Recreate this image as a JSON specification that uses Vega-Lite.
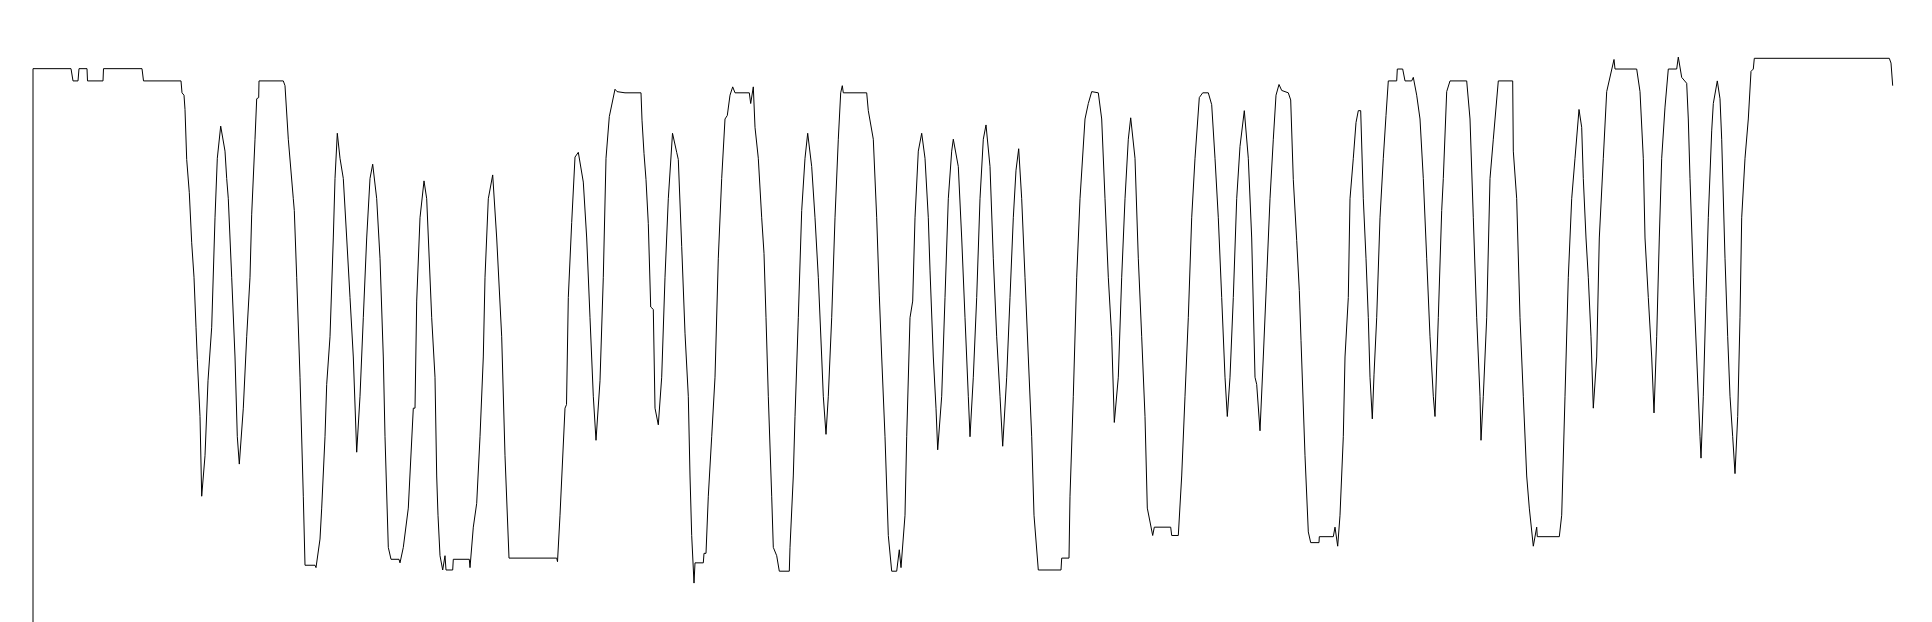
{
"$schema": "https://vega.github.io/schema/vega-lite/v6.json",
"width": 1932, "height": 622,
"autosize": {"type": "fit", "contains": "padding"},
"padding": 0,
"background": "white",
"config": {"view": {"stroke": null}},
"data": {"values": [
{"t":33,"d":530},{"t":33,"d":57.7},{"t":71,"d":57.7},{"t":73,"d":68},{"t":78,"d":68},{"t":79,"d":57.7},{"t":87,"d":57.7},{"t":87.5,"d":68},{"t":103,"d":68},{"t":103.5,"d":57.7},
{"t":142,"d":57.7},{"t":143.5,"d":68},{"t":181,"d":68},{"t":182,"d":78},{"t":184,"d":80},{"t":185,"d":92},{"t":186.7,"d":134},{"t":189.3,"d":162},{"t":191.7,"d":204},{"t":194,"d":233},{"t":196,"d":275},{"t":197.3,"d":302},{"t":200,"d":350},
{"t":201.7,"d":417},{"t":205,"d":383},{"t":208,"d":320},{"t":211.7,"d":275},{"t":215,"d":183},{"t":217.3,"d":133},{"t":220.7,"d":106},{"t":225,"d":127},{"t":226.7,"d":150},{"t":228.3,"d":167},
{"t":231.7,"d":233},{"t":235,"d":300},{"t":237.3,"d":367},{"t":239.3,"d":390},{"t":243.3,"d":343},{"t":246.7,"d":283},{"t":250,"d":233},{"t":251.7,"d":180},{"t":255,"d":117},{"t":256.7,"d":83},
{"t":258.7,"d":82},{"t":259,"d":68},{"t":283.3,"d":68},{"t":285,"d":72},{"t":288.3,"d":117},{"t":293.3,"d":167},{"t":294.3,"d":177},{"t":296.7,"d":233},{"t":300,"d":317},{"t":303.3,"d":417},
{"t":305,"d":475},{"t":315,"d":475},{"t":316,"d":477},{"t":320,"d":453},{"t":321.7,"d":427},{"t":325,"d":367},{"t":326.7,"d":323},{"t":330,"d":283},{"t":333.3,"d":200},{"t":335,"d":150},
{"t":337.3,"d":112},{"t":340,"d":133},{"t":343.3,"d":150},{"t":346.7,"d":200},{"t":350,"d":250},{"t":353.3,"d":300},{"t":356.7,"d":380},{"t":360,"d":333},{"t":363.3,"d":267},{"t":366.7,"d":200},
{"t":370,"d":150},{"t":372.7,"d":138},{"t":376.7,"d":167},{"t":380,"d":217},{"t":383.3,"d":300},{"t":385,"d":367},{"t":388.3,"d":460},{"t":391,"d":470},{"t":399,"d":470},{"t":400,"d":473},
{"t":403.3,"d":460},{"t":408.3,"d":427},{"t":413.3,"d":343},{"t":415,"d":343},{"t":416.7,"d":253},{"t":420,"d":183},{"t":424,"d":152},{"t":426.7,"d":167},{"t":431.7,"d":267},{"t":435,"d":317},
{"t":436.7,"d":400},{"t":438,"d":433},{"t":440,"d":467},{"t":442.7,"d":479},{"t":445,"d":467},{"t":446,"d":479},{"t":452.7,"d":479},{"t":453.3,"d":470},{"t":469.3,"d":470},{"t":470,"d":477},
{"t":473.3,"d":443},{"t":476.7,"d":423},{"t":480,"d":367},{"t":483.3,"d":300},{"t":485,"d":233},{"t":488.3,"d":167},{"t":492.7,"d":147},{"t":496.7,"d":200},{"t":501.7,"d":283},{"t":505,"d":383},
{"t":509,"d":469},{"t":556.7,"d":469},{"t":557.5,"d":472},{"t":560,"d":433},{"t":565,"d":343},{"t":566.5,"d":340},{"t":568.3,"d":250},{"t":571.7,"d":187},{"t":575,"d":132},{"t":578.3,"d":128},
{"t":583.3,"d":153},{"t":586.7,"d":200},{"t":590,"d":267},{"t":593.3,"d":333},{"t":596,"d":370},{"t":600,"d":320},{"t":603.3,"d":233},{"t":606,"d":133},{"t":609.3,"d":98},{"t":615,"d":75},
{"t":617,"d":77},{"t":625,"d":78},{"t":641,"d":78},{"t":642,"d":101},{"t":644,"d":129},{"t":646,"d":151},{"t":648.3,"d":188},{"t":650.7,"d":258},{"t":653.3,"d":260},{"t":655,"d":343},
{"t":658.3,"d":357},{"t":661.7,"d":317},{"t":665,"d":233},{"t":668.3,"d":167},{"t":672.5,"d":112},{"t":676.7,"d":128},{"t":678.3,"d":134},{"t":681.7,"d":207},{"t":685,"d":280},{"t":688.3,"d":333},
{"t":690,"d":400},{"t":691.7,"d":450},{"t":694,"d":490},{"t":695,"d":473},{"t":703.3,"d":473},{"t":704,"d":465},{"t":706,"d":465},{"t":708.3,"d":417},{"t":711.7,"d":367},{"t":715,"d":317},
{"t":718.3,"d":217},{"t":721.7,"d":150},{"t":725,"d":100},{"t":727.3,"d":97},{"t":730,"d":80},{"t":732.7,"d":73},{"t":735,"d":78},{"t":749.3,"d":78},{"t":750.7,"d":87},{"t":753.3,"d":73},
{"t":755,"d":107},{"t":758.3,"d":133},{"t":761.7,"d":183},{"t":764,"d":213},{"t":766,"d":267},{"t":768.3,"d":333},{"t":771.7,"d":417},{"t":773.3,"d":460},{"t":776.7,"d":467},{"t":779.3,"d":480},
{"t":789.3,"d":480},{"t":790,"d":460},{"t":793.3,"d":400},{"t":795,"d":350},{"t":798.3,"d":267},{"t":801.7,"d":177},{"t":805,"d":133},{"t":807.7,"d":112},{"t":811.7,"d":140},{"t":815,"d":183},
{"t":818.3,"d":233},{"t":821.7,"d":300},{"t":823.3,"d":333},{"t":826,"d":365},{"t":828.3,"d":333},{"t":831.7,"d":267},{"t":835,"d":183},{"t":838.3,"d":117},{"t":840.7,"d":78},{"t":842.3,"d":72},
{"t":843.3,"d":78},{"t":866.7,"d":78},{"t":868.3,"d":93},{"t":873.3,"d":117},{"t":876.7,"d":183},{"t":879.3,"d":248},{"t":881.7,"d":300},{"t":885,"d":367},{"t":888.3,"d":450},{"t":891.7,"d":480},
{"t":896.7,"d":480},{"t":899.3,"d":462},{"t":901,"d":477},{"t":905,"d":433},{"t":906.7,"d":367},{"t":910,"d":267},{"t":912.7,"d":253},{"t":915,"d":183},{"t":918.3,"d":127},{"t":921.7,"d":112},
{"t":925,"d":133},{"t":928.3,"d":183},{"t":930,"d":227},{"t":933.3,"d":300},{"t":936,"d":343},{"t":937.7,"d":378},{"t":941.7,"d":333},{"t":945,"d":250},{"t":948.3,"d":167},{"t":951.7,"d":127},
{"t":953.3,"d":117},{"t":958.3,"d":140},{"t":961.7,"d":200},{"t":965,"d":267},{"t":968.3,"d":333},{"t":970,"d":367},{"t":973.3,"d":317},{"t":976.7,"d":250},{"t":980,"d":167},{"t":983.3,"d":117},
{"t":986,"d":105},{"t":990,"d":140},{"t":993.3,"d":217},{"t":996.7,"d":283},{"t":1000,"d":333},{"t":1002.7,"d":375},{"t":1006.7,"d":317},{"t":1010,"d":250},{"t":1013.3,"d":183},{"t":1016,"d":143},
{"t":1018.7,"d":125},{"t":1021.7,"d":167},{"t":1025,"d":233},{"t":1028.3,"d":300},{"t":1031.7,"d":367},{"t":1034,"d":433},{"t":1038.3,"d":479},{"t":1061,"d":479},{"t":1061.7,"d":469},{"t":1069,"d":469},
{"t":1070,"d":417},{"t":1073.3,"d":333},{"t":1076.7,"d":233},{"t":1080,"d":167},{"t":1085,"d":100},{"t":1088.3,"d":87},{"t":1091.7,"d":77},{"t":1098.3,"d":78},{"t":1101.7,"d":100},{"t":1105,"d":167},
{"t":1108.3,"d":233},{"t":1111.7,"d":283},{"t":1114.3,"d":355},{"t":1118.3,"d":317},{"t":1121.7,"d":233},{"t":1125,"d":167},{"t":1128.3,"d":117},{"t":1130.7,"d":99},{"t":1135,"d":133},{"t":1138.3,"d":217},
{"t":1141.7,"d":283},{"t":1145,"d":350},{"t":1147.3,"d":427},{"t":1152.7,"d":450},{"t":1154.3,"d":443},{"t":1170.7,"d":443},{"t":1171.7,"d":450},{"t":1178.3,"d":450},{"t":1181.7,"d":400},{"t":1185,"d":333},
{"t":1188.3,"d":267},{"t":1191.7,"d":183},{"t":1195,"d":133},{"t":1199.3,"d":82},{"t":1202.7,"d":78},{"t":1208.3,"d":78},{"t":1211.7,"d":88},{"t":1215,"d":133},{"t":1218.3,"d":183},{"t":1221.7,"d":250},
{"t":1225,"d":317},{"t":1227.3,"d":350},{"t":1230,"d":317},{"t":1233.3,"d":250},{"t":1236.7,"d":167},{"t":1240,"d":123},{"t":1244.3,"d":93},{"t":1248.3,"d":133},{"t":1251.7,"d":200},{"t":1255,"d":317},
{"t":1256.7,"d":323},{"t":1260,"d":362},{"t":1263.3,"d":300},{"t":1266.7,"d":233},{"t":1270,"d":167},{"t":1273.3,"d":117},{"t":1276,"d":80},{"t":1279,"d":71},{"t":1281.7,"d":76},{"t":1288.3,"d":78},
{"t":1290.7,"d":84},{"t":1293.3,"d":151},{"t":1296.7,"d":202},{"t":1299.3,"d":244},{"t":1301,"d":286},{"t":1305,"d":383},{"t":1308.3,"d":447},{"t":1310.7,"d":456},{"t":1319,"d":456},{"t":1319.3,"d":451},
{"t":1333.3,"d":451},{"t":1335,"d":443},{"t":1337.7,"d":459},{"t":1340,"d":433},{"t":1343.3,"d":367},{"t":1345,"d":300},{"t":1348.3,"d":250},{"t":1350,"d":167},{"t":1353.3,"d":133},{"t":1356,"d":103},
{"t":1358.3,"d":93},{"t":1360.7,"d":93},{"t":1363.3,"d":167},{"t":1366,"d":217},{"t":1368.3,"d":267},{"t":1370,"d":317},{"t":1372.3,"d":352},{"t":1374,"d":315},{"t":1376.7,"d":267},{"t":1380,"d":183},
{"t":1383.3,"d":133},{"t":1386,"d":97},{"t":1388.3,"d":68},{"t":1396.7,"d":68},{"t":1397.3,"d":58},{"t":1402.7,"d":58},{"t":1405,"d":68},{"t":1411.7,"d":68},{"t":1413.3,"d":65},{"t":1416.7,"d":80},
{"t":1420,"d":100},{"t":1423.3,"d":150},{"t":1426.7,"d":217},{"t":1430,"d":283},{"t":1433.3,"d":333},{"t":1435,"d":350},{"t":1438.3,"d":267},{"t":1441.7,"d":177},{"t":1443.3,"d":150},{"t":1446.7,"d":77},
{"t":1450,"d":68},{"t":1466.7,"d":68},{"t":1470,"d":100},{"t":1473.3,"d":183},{"t":1476.7,"d":267},{"t":1480,"d":333},{"t":1481,"d":370},{"t":1483.3,"d":333},{"t":1486.7,"d":267},{"t":1490,"d":150},
{"t":1493.3,"d":117},{"t":1498.3,"d":68},{"t":1512.7,"d":68},{"t":1513.3,"d":127},{"t":1516.7,"d":167},{"t":1520,"d":267},{"t":1523.3,"d":333},{"t":1526.7,"d":400},{"t":1529.3,"d":427},{"t":1533.3,"d":459},
{"t":1536.7,"d":443},{"t":1537.3,"d":451},{"t":1559.3,"d":451},{"t":1561.7,"d":433},{"t":1565,"d":333},{"t":1568.3,"d":233},{"t":1571.7,"d":167},{"t":1575,"d":133},{"t":1579,"d":92},{"t":1581.7,"d":107},
{"t":1583.3,"d":150},{"t":1586,"d":200},{"t":1588.3,"d":233},{"t":1591,"d":283},{"t":1593.3,"d":343},{"t":1596.7,"d":300},{"t":1599.3,"d":200},{"t":1603.3,"d":133},{"t":1606.7,"d":77},{"t":1614,"d":50},
{"t":1615,"d":58},{"t":1636.7,"d":58},{"t":1640,"d":77},{"t":1643.3,"d":133},{"t":1645,"d":200},{"t":1648.3,"d":250},{"t":1651.7,"d":300},{"t":1654,"d":347},{"t":1656.7,"d":283},{"t":1659.3,"d":200},
{"t":1661.7,"d":133},{"t":1665,"d":90},{"t":1668.3,"d":58},{"t":1676.7,"d":58},{"t":1678.3,"d":48},{"t":1681.7,"d":65},{"t":1686.7,"d":70},{"t":1688.3,"d":100},{"t":1690,"d":150},{"t":1693.3,"d":233},
{"t":1696.7,"d":300},{"t":1700,"d":367},{"t":1701,"d":385},{"t":1703.3,"d":333},{"t":1706,"d":250},{"t":1708.3,"d":183},{"t":1711.7,"d":110},{"t":1713.3,"d":87},{"t":1717.3,"d":68},{"t":1720,"d":83},
{"t":1721.7,"d":117},{"t":1725,"d":217},{"t":1727.7,"d":283},{"t":1730,"d":333},{"t":1732.7,"d":367},{"t":1735,"d":398},{"t":1737.7,"d":350},{"t":1740,"d":267},{"t":1741.7,"d":183},{"t":1745,"d":133},
{"t":1748.3,"d":100},{"t":1751,"d":60},{"t":1753.3,"d":58},{"t":1754.3,"d":49},{"t":1889.3,"d":49},{"t":1891,"d":53},{"t":1892.7,"d":72}
]},
"mark": {"type": "line", "color": "#000000", "strokeWidth": 1, "clip": true},
"encoding": {
  "x": {"field": "t", "type": "quantitative", "axis": null, "scale": {"domain": [0, 1932], "nice": false, "zero": false}},
  "y": {"field": "d", "type": "quantitative", "axis": null, "scale": {"domain": [0, 522.7], "nice": false, "zero": false, "reverse": true}}
}
}
